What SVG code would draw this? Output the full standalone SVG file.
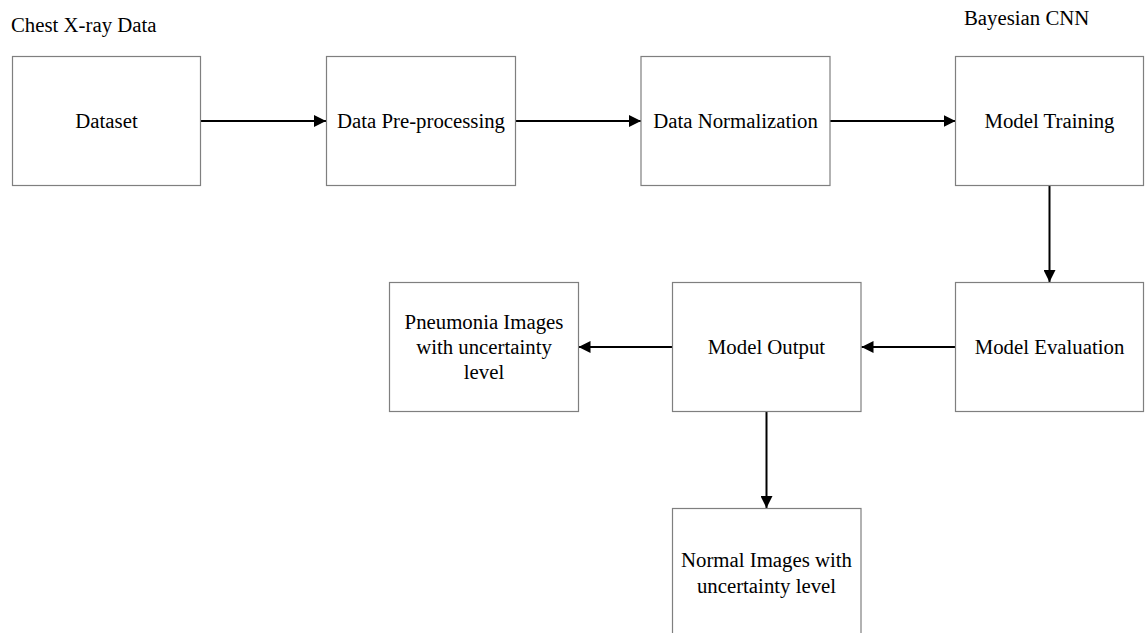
<svg xmlns="http://www.w3.org/2000/svg" width="1145" height="633" viewBox="0 0 1145 633">
  <style>
    .box { fill: #ffffff; stroke: #7f7f7f; stroke-width: 1.2; }
    .lbl { font-family: "Liberation Serif", "Times New Roman", serif; font-size: 20.8px; fill: #000000; text-anchor: middle; }
    .cap { font-family: "Liberation Serif", "Times New Roman", serif; font-size: 20.8px; fill: #000000; }
    .edge { fill: none; stroke: #000000; stroke-width: 2; marker-end: url(#head); }
  </style>
  <defs>
    <marker id="head" viewBox="0 0 12 12" refX="12" refY="6" markerWidth="12" markerHeight="12" markerUnits="userSpaceOnUse" orient="auto">
      <path d="M0,0 L12,6 L0,12 Z" fill="#000000"/>
    </marker>
  </defs>
  <rect width="1145" height="633" fill="#ffffff"/>

  <text class="cap" x="11" y="32">Chest X-ray Data</text>
  <text class="cap" x="964" y="25">Bayesian CNN</text>

  <g id="connectors">
    <line class="edge" x1="200.5" y1="121" x2="326" y2="121"/>
    <line class="edge" x1="515.5" y1="121" x2="641" y2="121"/>
    <line class="edge" x1="830" y1="121" x2="955.5" y2="121"/>
    <line class="edge" x1="1049.5" y1="185.5" x2="1049.5" y2="282"/>
    <line class="edge" x1="955.5" y1="347" x2="861.5" y2="347"/>
    <line class="edge" x1="672.5" y1="347" x2="578.5" y2="347"/>
    <line class="edge" x1="766.5" y1="411.5" x2="766.5" y2="508"/>
  </g>

  <g id="dataset">
    <rect class="box" x="12.5" y="56.5" width="188" height="129"/>
    <text class="lbl" x="106.5" y="128">Dataset</text>
  </g>
  <g id="preprocessing">
    <rect class="box" x="326.5" y="56.5" width="189" height="129"/>
    <text class="lbl" x="421" y="128">Data Pre-processing</text>
  </g>
  <g id="normalization">
    <rect class="box" x="641" y="56.5" width="189" height="129"/>
    <text class="lbl" x="735.5" y="128">Data Normalization</text>
  </g>
  <g id="training">
    <rect class="box" x="955.5" y="56.5" width="188" height="129"/>
    <text class="lbl" x="1049.5" y="128">Model Training</text>
  </g>
  <g id="evaluation">
    <rect class="box" x="955.5" y="282.5" width="188" height="129"/>
    <text class="lbl" x="1049.5" y="354">Model Evaluation</text>
  </g>
  <g id="output">
    <rect class="box" x="672.5" y="282.5" width="188.5" height="129"/>
    <text class="lbl" x="766.5" y="354">Model Output</text>
  </g>
  <g id="pneumonia">
    <rect class="box" x="389.5" y="282.5" width="189" height="129"/>
    <text class="lbl" x="484" y="328.5">Pneumonia Images</text>
    <text class="lbl" x="484" y="353.5">with uncertainty</text>
    <text class="lbl" x="484" y="379">level</text>
  </g>
  <g id="normal">
    <rect class="box" x="672.5" y="508.5" width="188.5" height="129"/>
    <text class="lbl" x="766.5" y="567">Normal Images with</text>
    <text class="lbl" x="766.5" y="593">uncertainty level</text>
  </g>
</svg>
